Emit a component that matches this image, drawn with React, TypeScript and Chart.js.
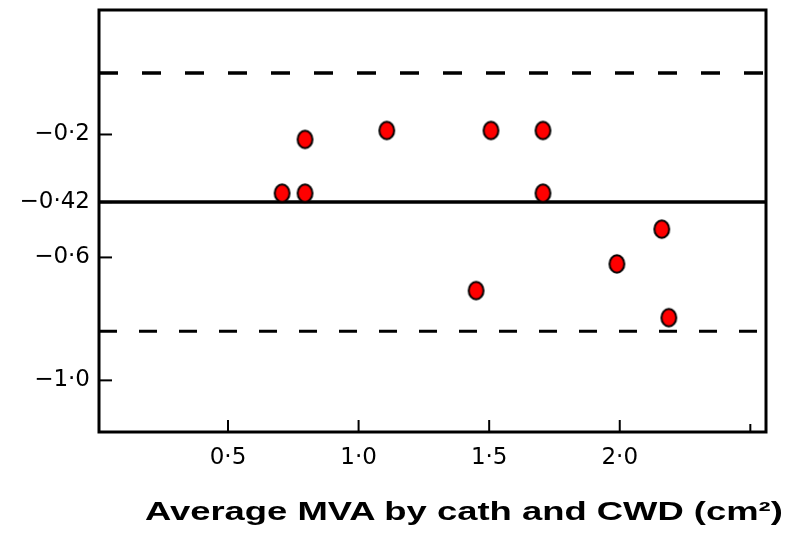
import React, { useEffect, useRef } from 'react';
import { Chart, registerables } from 'chart.js';

Chart.register(...registerables);

// ---- data ----
const avgMVA = [0.707, 0.795, 0.795, 1.108, 1.507, 1.706, 1.706, 1.45, 1.989, 2.161, 2.188];
const diffMVA = [-0.391, -0.391, -0.216, -0.187, -0.187, -0.187, -0.391, -0.708, -0.621, -0.508, -0.796];
const meanDiff = -0.42;
const upperLimit = 0.0;
const lowerLimit = -0.84;
const xRange = [0.006, 2.56];
const yRange = [-1.168, 0.205];
const xTickValues = [0.5, 1.0, 1.5, 2.0, 2.5];
const xTickLabels = ['0·5', '1·0', '1·5', '2·0', ''];
const yTickValues = [-0.2, -0.42, -0.6, -1.0];
const yTickLabels = ['\u22120·2', '\u22120·42', '\u22120·6', '\u22121·0'];
const xTitle = 'Average MVA by cath and CWD (cm²)';

function makeMarker(): HTMLCanvasElement {
  const c = document.createElement('canvas');
  c.width = 19;
  c.height = 22;
  const ctx = c.getContext('2d')!;
  ctx.beginPath();
  ctx.ellipse(9.5, 11, 7.4, 8.8, 0, 0, Math.PI * 2);
  ctx.fillStyle = '#ff0000';
  ctx.fill();
  ctx.lineWidth = 2;
  ctx.strokeStyle = '#000000';
  ctx.stroke();
  return c;
}

const framePlugin = {
  id: 'frameAndInsideTicks',
  afterDraw(chart: any) {
    const { ctx, chartArea, scales } = chart;
    ctx.save();
    ctx.strokeStyle = '#000';
    ctx.lineWidth = 2;
    yTickValues.forEach((v) => {
      const py = scales.y.getPixelForValue(v);
      ctx.beginPath();
      ctx.moveTo(chartArea.left, py);
      ctx.lineTo(chartArea.left + 13, py);
      ctx.stroke();
    });
    xTickValues.forEach((v, i) => {
      const px = scales.x.getPixelForValue(v);
      ctx.beginPath();
      ctx.moveTo(px, chartArea.bottom);
      ctx.lineTo(px, chartArea.bottom - (xTickLabels[i] ? 12 : 8));
      ctx.stroke();
    });
    ctx.lineWidth = 3;
    ctx.strokeRect(chartArea.left, chartArea.top, chartArea.right - chartArea.left, chartArea.bottom - chartArea.top);
    ctx.restore();
  },
};

export default function App() {
  const ref = useRef<HTMLCanvasElement | null>(null);

  useEffect(() => {
    if (!ref.current) return;
    const marker = makeMarker();
    const hLine = (y: number) => [
      { x: xRange[0], y },
      { x: xRange[1], y },
    ];
    const chart = new Chart(ref.current, {
      type: 'scatter',
      data: {
        datasets: [
          {
            label: 'Difference',
            data: avgMVA.map((x, i) => ({ x, y: diffMVA[i] })),
            pointStyle: marker as any,
            pointRadius: 9,
            order: 0,
          },
          {
            type: 'line',
            label: 'Mean',
            data: hLine(meanDiff),
            borderColor: '#000',
            borderWidth: 3.5,
            pointRadius: 0,
            order: 1,
          },
          {
            type: 'line',
            label: 'Upper limit',
            data: hLine(upperLimit),
            borderColor: '#000',
            borderWidth: 3.5,
            borderDash: [19, 24],
            pointRadius: 0,
            order: 1,
          },
          {
            type: 'line',
            label: 'Lower limit',
            data: hLine(lowerLimit),
            borderColor: '#000',
            borderWidth: 3,
            borderDash: [18, 22],
            pointRadius: 0,
            order: 1,
          },
        ] as any,
      },
      options: {
        animation: false,
        responsive: false,
        maintainAspectRatio: false,
        layout: { padding: { top: 8, right: 37, left: 0, bottom: 0 } },
        plugins: { legend: { display: false }, tooltip: { enabled: false }, title: { display: false } },
        scales: {
          x: {
            type: 'linear',
            min: xRange[0],
            max: xRange[1],
            grid: { display: false, drawTicks: false },
            border: { display: false },
            afterFit: (s: any) => {
              s.height = 104;
              s.paddingLeft = 0;
              s.paddingRight = 0;
            },
            afterBuildTicks: (s: any) => {
              s.ticks = xTickValues.map((v) => ({ value: v }));
            },
            ticks: {
              autoSkip: false,
              maxRotation: 0,
              padding: 12,
              color: '#000',
              font: { family: '"DejaVu Sans"', size: 23 },
              callback: (v: any) => {
                const i = xTickValues.findIndex((t) => Math.abs(t - Number(v)) < 1e-6);
                return i >= 0 ? xTickLabels[i] : '';
              },
            },
          },
          y: {
            type: 'linear',
            min: yRange[0],
            max: yRange[1],
            grid: { display: false, drawTicks: false },
            border: { display: false },
            afterFit: (s: any) => {
              s.width = 99;
              s.paddingTop = 0;
              s.paddingBottom = 0;
            },
            afterBuildTicks: (s: any) => {
              s.ticks = yTickValues.map((v) => ({ value: v }));
            },
            ticks: {
              autoSkip: false,
              padding: 9,
              color: '#000',
              font: { family: '"DejaVu Sans"', size: 23 },
              callback: (v: any) => {
                const i = yTickValues.findIndex((t) => Math.abs(t - Number(v)) < 1e-6);
                return i >= 0 ? yTickLabels[i] : '';
              },
            },
          },
        },
      },
      plugins: [framePlugin],
    });
    return () => chart.destroy();
  }, []);

  return (
    <div style={{ position: 'absolute', left: 0, top: 0, width: 803, height: 536, background: '#fff', overflow: 'hidden' }}>
      <canvas ref={ref} width={803} height={536} style={{ display: 'block', width: 803, height: 536 }} />
      <div
        style={{
          position: 'absolute',
          left: 145,
          top: 496,
          fontFamily: '"Liberation Sans", Arial, sans-serif',
          fontWeight: 'bold',
          fontSize: 26,
          whiteSpace: 'nowrap',
          color: '#000',
          transform: 'scaleX(1.4)',
          transformOrigin: '0 0',
        }}
      >
        {xTitle}
      </div>
    </div>
  );
}
